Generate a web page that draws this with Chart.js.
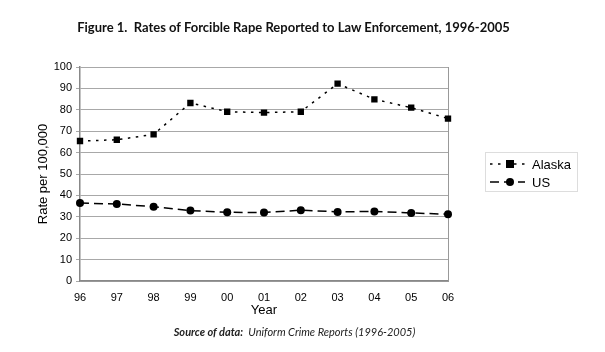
<!DOCTYPE html>
<html>
<head>
<meta charset="utf-8">
<script src="https://cdn.jsdelivr.net/npm/chart.js@4/dist/chart.umd.min.js"></script>
<style>
  body { margin: 0; background: #fff; }
  #wrap { position: relative; width: 605px; height: 352px; }
  #chart { position: absolute; left: 0; top: 0; }
  .title { position: absolute; left: 0; width: 605px; top: 19px; text-align: center;
           font: bold 13px Lato, "Open Sans", sans-serif; color: #111; padding-right: 18px; box-sizing: border-box; }
  .source { position: absolute; left: 0; width: 605px; top: 325px; text-align: center;
            font: italic 11px Lato, "Open Sans", sans-serif; color: #222; padding-right: 16px; box-sizing: border-box; }
</style>
</head>
<body>
<div id="wrap">
  <canvas id="chart" width="605" height="352"></canvas>
  <div class="title">Figure 1.&nbsp; Rates of Forcible Rape Reported to Law Enforcement, 1996-2005</div>
  <div class="source"><b>Source of data:</b>&nbsp; Uniform Crime Reports (1996-2005)</div>
</div>
<script>
// Jahre (zweistellig) und Raten pro 100.000
var years = ['96', '97', '98', '99', '00', '01', '02', '03', '04', '05', '06'];
var alaska = [65.4, 66.0, 68.5, 83.2, 79.1, 78.7, 79.1, 92.2, 84.9, 81.0, 75.9];
var us = [36.4, 36.0, 34.7, 32.9, 32.1, 32.0, 33.1, 32.3, 32.5, 31.8, 31.2];

var fontFam = '"Liberation Sans", Arial, sans-serif';

// eigene Legende mit Rahmen rechts neben dem Diagramm
var boxLegend = {
    id: 'boxLegend',
    afterDraw: function(chart) {
        var ctx = chart.ctx;
        ctx.save();
        ctx.strokeStyle = '#dddddd';
        ctx.lineWidth = 1;
        ctx.strokeRect(485.5, 152.5, 92, 39);
        chart.data.datasets.forEach(function(ds, i) {
            var y = 164 + i * 18;
            ctx.strokeStyle = '#000';
            ctx.lineWidth = ds.borderWidth;
            ctx.setLineDash(ds.borderDash);
            ctx.beginPath();
            ctx.moveTo(490, y);
            ctx.lineTo(525, y);
            ctx.stroke();
            ctx.setLineDash([]);
            ctx.fillStyle = '#000';
            if (ds.pointStyle == 'rect') {
                ctx.fillRect(506, y - 4, 8, 8);
            } else {
                ctx.beginPath();
                ctx.arc(510, y, 4, 0, Math.PI * 2);
                ctx.fill();
            }
            ctx.font = '13px ' + fontFam;
            ctx.textBaseline = 'middle';
            ctx.fillText(ds.label, 532, y + 1);
        });
        ctx.restore();
    }
};

new Chart(document.getElementById('chart'), {
    type: 'line',
    data: {
        labels: years,
        datasets: [
            {label: 'Alaska', data: alaska, borderColor: '#000', backgroundColor: '#000',
             borderWidth: 1.5, borderDash: [2.5, 5.5], pointStyle: 'rect', pointRadius: 4.5,
             pointBorderWidth: 0, fill: false, tension: 0},
            {label: 'US', data: us, borderColor: '#000', backgroundColor: '#000',
             borderWidth: 1.5, borderDash: [9, 5], pointStyle: 'circle', pointRadius: 4,
             pointBorderWidth: 0, fill: false, tension: 0}
        ]
    },
    options: {
        responsive: false,
        animation: false,
        layout: {padding: {top: 67, right: 157, bottom: 33.5, left: 36}},
        plugins: {legend: {display: false}, tooltip: {enabled: false}},
        scales: {
            x: {
                offset: false,
                grid: {display: false, drawOnChartArea: false, drawTicks: true, tickLength: 4, color: '#888'},
                border: {color: '#888', width: 1.5},
                ticks: {color: '#000', font: {family: fontFam, size: 11}, padding: 6, maxRotation: 0, autoSkip: false},
                title: {display: true, text: 'Year', color: '#000', font: {family: fontFam, size: 13}, padding: {top: 0, bottom: 0}},
                afterFit: function(scale) { scale.height = 37.5; }
            },
            y: {
                min: 0, max: 100,
                ticks: {stepSize: 10, color: '#000', font: {family: fontFam, size: 11}, padding: 4},
                grid: {color: '#a8a8a8', lineWidth: 1, tickLength: 4},
                border: {color: '#888', width: 1.5},
                title: {display: true, text: 'Rate per 100,000', color: '#000', font: {family: fontFam, size: 13}, padding: {top: 0, bottom: 2}},
                afterFit: function(scale) { scale.width = 44; }
            },
            y2: {
                position: 'right', min: 0, max: 100,
                ticks: {display: false},
                grid: {display: false, drawTicks: false},
                border: {color: '#999', width: 1},
                afterFit: function(scale) { scale.width = 0; }
            }
        }
    },
    plugins: [boxLegend]
});
</script>
</body>
</html>
